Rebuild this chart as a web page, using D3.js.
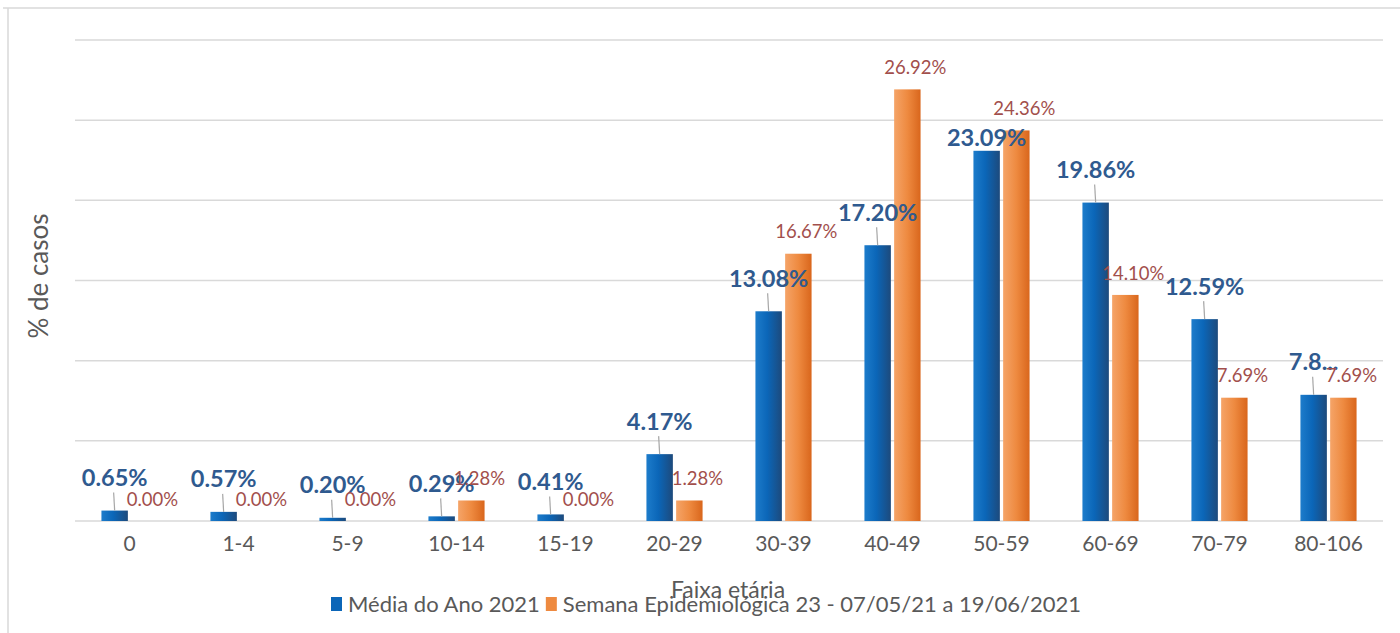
<!DOCTYPE html>
<html lang="pt">

<head>
  <meta charset="UTF-8">
  <title>% de casos por faixa etária</title>
  <script src="https://d3js.org/d3.v7.min.js"></script>
  <style>
    body {
      margin: 0;
      padding: 0;
      background: #fff;
      font-family: Lato, "Open Sans", Arial, sans-serif;
    }
  </style>
</head>

<body>
  <div id="chart"></div>

  <script>
    // Dados
    const faixas = ["0", "1-4", "5-9", "10-14", "15-19", "20-29", "30-39", "40-49", "50-59", "60-69", "70-79", "80-106"];
    const mediaAno = [0.65, 0.57, 0.20, 0.29, 0.41, 4.17, 13.08, 17.20, 23.09, 19.86, 12.59, 7.87];
    const mediaLabels = ["0.65%", "0.57%", "0.20%", "0.29%", "0.41%", "4.17%", "13.08%", "17.20%", "23.09%", "19.86%", "12.59%", "7.8..."];
    const semana = [0, 0, 0, 1.28, 0, 1.28, 16.67, 26.92, 24.36, 14.10, 7.69, 7.69];
    const seriesNames = ["Média do Ano 2021", "Semana Epidemiológica 23 - 07/05/21 a 19/06/2021"];
    const yTicks = [0, 5, 10, 15, 20, 25, 30];

    const width = 1400, height = 633;
    const margin = { top: 40, right: 17, bottom: 112, left: 75 };

    const svg = d3.select("#chart").append("svg")
      .attr("width", width)
      .attr("height", height);

    // gradientes das barras
    const defs = svg.append("defs");
    const gradBlue = defs.append("linearGradient").attr("id", "gBlue");
    gradBlue.append("stop").attr("offset", "0%").attr("stop-color", "#1d7ccb");
    gradBlue.append("stop").attr("offset", "45%").attr("stop-color", "#0b66b8");
    gradBlue.append("stop").attr("offset", "100%").attr("stop-color", "#1d4a7c");
    const gradOrange = defs.append("linearGradient").attr("id", "gOrange");
    gradOrange.append("stop").attr("offset", "0%").attr("stop-color", "#f5a468");
    gradOrange.append("stop").attr("offset", "50%").attr("stop-color", "#ee8a40");
    gradOrange.append("stop").attr("offset", "100%").attr("stop-color", "#d9661c");

    // moldura do gráfico
    svg.append("path")
      .attr("d", `M3,8 H${width} M8,8 V${height}`)
      .attr("stroke", "#d9d9d9")
      .attr("stroke-width", 1.5)
      .attr("fill", "none");

    const x0 = d3.scaleBand()
      .domain(faixas)
      .range([margin.left, width - margin.right])
      .paddingInner(0.485)
      .paddingOuter(0.2425);

    const x1 = d3.scaleBand()
      .domain([0, 1])
      .range([0, x0.bandwidth()])
      .paddingInner(0.11);

    const y = d3.scaleLinear()
      .domain([0, 30])
      .range([height - margin.bottom, margin.top]);

    // linhas de grade
    svg.append("g")
      .selectAll("line")
      .data(yTicks)
      .enter().append("line")
      .attr("x1", margin.left)
      .attr("x2", width - margin.right)
      .attr("y1", d => y(d))
      .attr("y2", d => y(d))
      .attr("stroke", "#d9d9d9")
      .attr("stroke-width", 1.5);

    // eixo x (só rótulos)
    const xAxis = svg.append("g")
      .attr("transform", `translate(0,${height - margin.bottom})`)
      .call(d3.axisBottom(x0).tickSize(0).tickPadding(15));
    xAxis.select(".domain").remove();
    xAxis.selectAll("text")
      .attr("font-family", "Lato, sans-serif")
      .attr("font-size", "21px")
      .attr("fill", "#595959");

    const groups = svg.append("g")
      .selectAll("g")
      .data(faixas)
      .enter().append("g")
      .attr("transform", d => `translate(${x0(d)},0)`);

    // barras azuis
    groups.append("rect")
      .attr("x", x1(0))
      .attr("width", x1.bandwidth())
      .attr("y", (d, i) => y(mediaAno[i]))
      .attr("height", (d, i) => y(0) - y(mediaAno[i]))
      .attr("fill", "url(#gBlue)");

    // barras laranja
    groups.append("rect")
      .attr("x", x1(1))
      .attr("width", x1.bandwidth())
      .attr("y", (d, i) => y(semana[i]))
      .attr("height", (d, i) => y(0) - y(semana[i]))
      .attr("fill", "url(#gOrange)");

    // linhas guia dos rótulos azuis
    groups.filter((d, i) => i !== 8).append("line")
      .attr("x1", x1(0) + x1.bandwidth() / 2)
      .attr("x2", x1(0) + x1.bandwidth() / 2 - 1)
      .attr("y1", d => y(mediaAno[faixas.indexOf(d)]))
      .attr("y2", d => y(mediaAno[faixas.indexOf(d)]) - 18)
      .attr("stroke", "#a6a6a6")
      .attr("stroke-width", 1.2);

    // rótulos azuis
    groups.append("text")
      .attr("x", x1(0) + x1.bandwidth() / 2)
      .attr("y", (d, i) => y(mediaAno[i]) - (i === 8 ? 13 : 33))
      .attr("dy", "0.36em")
      .attr("text-anchor", "middle")
      .attr("font-family", "Lato, sans-serif")
      .attr("font-weight", "bold")
      .attr("font-size", "23.5px")
      .attr("fill", "#2f5a8f")
      .text((d, i) => mediaLabels[i]);

    // rótulos laranja
    groups.append("text")
      .attr("x", x1(1) + x1.bandwidth() / 2 + 8)
      .attr("y", (d, i) => Math.min(y(semana[i]) - 22, y(0) - 13))
      .attr("dy", "0.36em")
      .attr("text-anchor", "middle")
      .attr("font-family", "Lato, sans-serif")
      .attr("font-size", "18.5px")
      .attr("fill", "#a24f4c")
      .text((d, i) => semana[i].toFixed(2) + "%");

    // títulos dos eixos
    svg.append("text")
      .attr("transform", `translate(48,276) rotate(-90)`)
      .attr("text-anchor", "middle")
      .attr("font-family", "Lato, sans-serif")
      .attr("font-size", "26px")
      .attr("fill", "#595959")
      .text("% de casos");

    svg.append("text")
      .attr("x", 728)
      .attr("y", 598)
      .attr("text-anchor", "middle")
      .attr("font-family", "Lato, sans-serif")
      .attr("font-size", "23px")
      .attr("fill", "#595959")
      .text("Faixa etária");

    // legenda
    const legend = svg.append("g").attr("transform", "translate(331,604)");
    const fills = ["#0b66b8", "#ee8a40"];
    let lx = 0;
    seriesNames.forEach((name, i) => {
      legend.append("rect")
        .attr("x", lx)
        .attr("y", -7)
        .attr("width", 11)
        .attr("height", 14)
        .attr("fill", fills[i]);
      const t = legend.append("text")
        .attr("x", lx + 17)
        .attr("y", 0)
        .attr("dy", "0.35em")
        .attr("font-family", "Lato, sans-serif")
        .attr("font-size", "22px")
        .attr("fill", "#595959")
        .text(name);
      lx += 17 + t.node().getComputedTextLength() + 6;
    });
  </script>
</body>

</html>
